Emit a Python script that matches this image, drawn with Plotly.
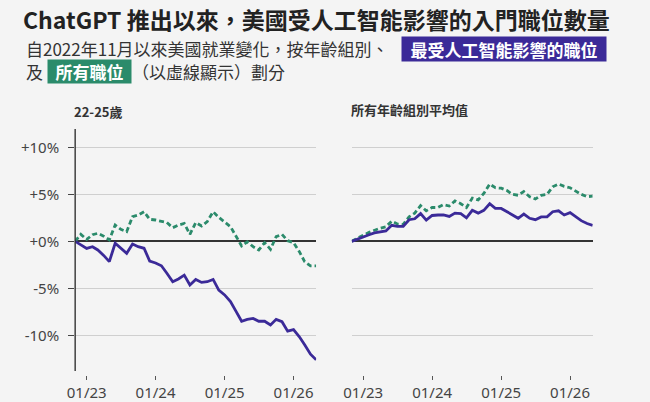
import plotly.graph_objects as go
import pandas as pd

# ---- data (percent change since Nov 2022) ----
months = pd.date_range("2022-11-01", periods=43, freq="MS")

young_ai = [0, -0.35, -0.75, -0.57, -0.92, -1.5, -2.16, -0.2, -0.74, -1.28,
            -0.28, -0.57, -0.74, -2.1, -2.3, -2.6, -3.4, -4.3, -4.0, -3.6,
            -4.65, -4.05, -4.37, -4.3, -4.05, -5.2, -5.7, -6.4, -7.4, -8.5,
            -8.3, -8.2, -8.5, -8.5, -8.9, -8.3, -8.55, -9.55, -9.4, -10.15,
            -11.0, -12.0, -12.6]
young_all = [0, 0.74, 0.2, 0.7, 0.85, 0.55, 0.15, 1.73, 1.27, 1.03,
             2.62, 2.8, 3.15, 2.34, 2.27, 2.1, 2.0, 1.45, 1.73, 1.9,
             0.74, 2.0, 1.63, 2.1, 3.15, 2.55, 2.1, 1.56, 0.6, -0.5,
             -0.05, -0.57, -0.92, -0.14, -0.85, 0.5, 0.74, 0.07, -0.14, -1.1,
             -2.16, -2.62, -2.62]
avg_ai = [0, 0.25, 0.5, 0.7, 0.9, 1.0, 1.1, 1.7, 1.6, 1.6,
          2.3, 2.4, 2.95, 2.25, 2.75, 2.8, 2.8, 2.65, 3.0, 2.95,
          2.5, 3.3, 3.0, 3.3, 4.0, 3.5, 3.5, 3.15, 2.8, 2.45,
          2.9, 2.45, 2.3, 2.6, 2.6, 3.15, 3.25, 2.8, 3.05, 2.6,
          2.2, 1.9, 1.7]
avg_all = [0, 0.35, 0.65, 0.95, 1.2, 1.4, 1.55, 2.15, 1.85, 1.8,
           2.6, 3.0, 3.8, 3.25, 3.6, 3.6, 3.9, 3.75, 4.3, 4.0,
           3.6, 4.6, 4.4, 5.1, 6.1, 5.7, 5.65, 5.4, 5.0, 4.9,
           5.3, 4.75, 4.5, 4.9, 5.0, 5.8, 6.1, 5.85, 5.7, 5.35,
           5.0, 4.75, 4.8]

x_tick_vals = ["2023-01-01", "2024-01-01", "2025-01-01", "2026-01-01"]
x_tick_text = ["01/23", "01/24", "01/25", "01/26"]
y_tick_vals = [10, 5, 0, -5, -10]
y_tick_text = ["+10%", "+5%", "+0%", "-5%", "-10%"]

title_text = "ChatGPT 推出以來，美國受人工智能影響的入門職位數量"
sub1_text = "自2022年11月以來美國就業變化，按年齡組別、"
sub_ai_text = "最受人工智能影響的職位"
sub2a_text = "及"
sub_all_text = "所有職位"
sub2b_text = "（以虛線顯示）劃分"
panel1_title = "22-25歲"
panel2_title = "所有年齡組別平均值"

# ---- styles ----
W, H = 650, 402
PURPLE = "#3b2a98"
GREEN = "#2b8b6b"
BG = "#f4f4f4"
FONT = "Noto Sans, Noto Sans CJK TC, sans-serif"
CJK = "Noto Sans CJK TC, Noto Sans, sans-serif"


def px(x):
    return x / W


def py(y):
    return 1 - y / H


fig = go.Figure()
line_ai = dict(color=PURPLE, width=2.8)
line_all = dict(color=GREEN, width=2.8, dash="5px,3px")

fig.add_trace(go.Scatter(x=months, y=young_all, mode="lines", line=line_all,
                         xaxis="x", yaxis="y", showlegend=False))
fig.add_trace(go.Scatter(x=months, y=young_ai, mode="lines", line=line_ai,
                         xaxis="x", yaxis="y", showlegend=False))
fig.add_trace(go.Scatter(x=months, y=avg_all, mode="lines", line=line_all,
                         xaxis="x2", yaxis="y2", showlegend=False))
fig.add_trace(go.Scatter(x=months, y=avg_ai, mode="lines", line=line_ai,
                         xaxis="x2", yaxis="y2", showlegend=False))

x_range = ["2022-11-01", "2026-05-01"]
y_range = [-14.22, 11.95]
y_dom = [py(375), py(129)]

xcommon = dict(type="date", range=x_range, tickvals=x_tick_vals, ticktext=x_tick_text,
               ticks="outside", ticklen=4, tickwidth=1, tickcolor="#555",
               showgrid=False, showline=False, zeroline=False,
               tickfont=dict(family=FONT, size=15, color="#444"), fixedrange=True)
ycommon = dict(range=y_range, domain=y_dom, tickvals=y_tick_vals,
               showgrid=True, gridcolor="#cfcfcf", gridwidth=1,
               zeroline=True, zerolinecolor="#333", zerolinewidth=1.6,
               showline=False, fixedrange=True)

fig.update_layout(
    width=W, height=H,
    margin=dict(l=0, r=0, t=0, b=0),
    paper_bgcolor=BG, plot_bgcolor=BG,
    xaxis=dict(domain=[px(68), px(312)], anchor="y", **xcommon),
    xaxis2=dict(domain=[px(348), px(592)], anchor="y2", **xcommon),
    yaxis=dict(anchor="x", ticktext=y_tick_text, ticks="outside", ticklen=6,
               tickcolor="#444", ticklabelstandoff=6,
               tickfont=dict(family=FONT, size=15, color="#444"), **ycommon),
    yaxis2=dict(anchor="x2", showticklabels=False, ticks="", **ycommon),
)

# y-axis line of left panel
fig.add_shape(type="line", xref="x domain", yref="y", x0=0, x1=0,
              y0=-13.8, y1=y_range[1], line=dict(color="#333", width=1.4))

ann = []
ann.append(dict(text="<b>" + title_text + "</b>", x=px(13), y=py(19), xanchor="left",
                yanchor="middle", showarrow=False,
                font=dict(family=CJK, size=23, color="#222")))
ann.append(dict(text=sub1_text, x=px(16), y=py(49), xanchor="left", yanchor="middle",
                showarrow=False, font=dict(family=CJK, size=17, color="#333")))
ann.append(dict(text="<b>" + sub_ai_text + "</b>", x=px(398), y=py(49.5), xanchor="left",
                yanchor="middle", showarrow=False, bgcolor=PURPLE, width=204, height=24,
                borderpad=0, font=dict(family=CJK, size=17, color="white")))
ann.append(dict(text=sub2a_text, x=px(16), y=py(72), xanchor="left", yanchor="middle",
                showarrow=False, font=dict(family=CJK, size=17, color="#333")))
ann.append(dict(text="<b>" + sub_all_text + "</b>", x=px(39), y=py(72), xanchor="left",
                yanchor="middle", showarrow=False, bgcolor=GREEN, width=83, height=23,
                borderpad=0, font=dict(family=CJK, size=17, color="white")))
ann.append(dict(text=sub2b_text, x=px(124), y=py(72), xanchor="left", yanchor="middle",
                showarrow=False, font=dict(family=CJK, size=17, color="#333")))
ann.append(dict(text="<b>" + panel1_title + "</b>", x=px(65), y=py(111), xanchor="left",
                yanchor="middle", showarrow=False,
                font=dict(family=CJK, size=13, color="#333")))
ann.append(dict(text="<b>" + panel2_title + "</b>", x=px(345), y=py(110), xanchor="left",
                yanchor="middle", showarrow=False,
                font=dict(family=CJK, size=13, color="#333")))
for a in ann:
    a["xref"] = "paper"
    a["yref"] = "paper"
fig.update_layout(annotations=ann)

fig.write_html("out.html")
